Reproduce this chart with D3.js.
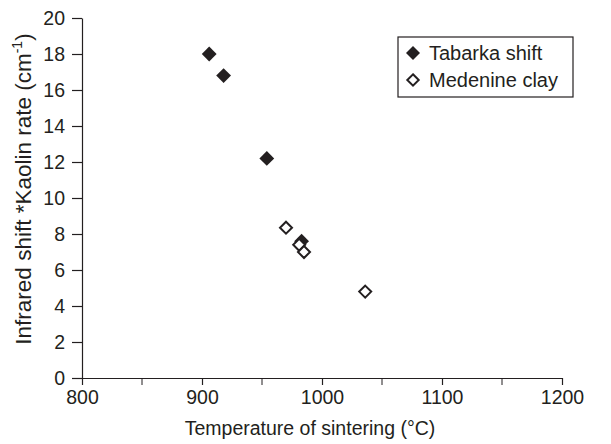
<!DOCTYPE html>
<html>
<head>
<meta charset="utf-8">
<script src="https://cdn.jsdelivr.net/npm/d3@7"></script>
<style>
  body { margin: 0; background: #fff; }
  svg text { font-family: "Liberation Sans", Arial, sans-serif; fill: #231f20; }
</style>
</head>
<body>
<svg id="chart" width="611" height="444"></svg>
<script>
// data
var tabarkaTemp = [906, 918, 954, 983];
var tabarkaShift = [18.0, 16.8, 12.2, 7.6];
var medenineTemp = [970, 981, 985, 1036];
var medenineShift = [8.35, 7.4, 7.0, 4.8];
var xTicks = [800, 900, 1000, 1100, 1200];
var xMinorTicks = [850, 950, 1050, 1150];
var yTicks = [0, 2, 4, 6, 8, 10, 12, 14, 16, 18, 20];

var ink = '#231f20';
var fs = 19.5;
var svg = d3.select('#chart');

var x = d3.scaleLinear().domain([800, 1200]).range([82, 562]);
var y = d3.scaleLinear().domain([0, 20]).range([378, 18]);

function diamond(r) {
  return 'M0,' + (-r) + 'L' + r + ',0L0,' + r + 'L' + (-r) + ',0Z';
}

// x axis
var xAxis = svg.append('g').attr('transform', 'translate(0,378)')
  .call(d3.axisBottom(x).tickValues(xTicks).tickFormat(d3.format('d'))
    .tickSize(7).tickSizeOuter(0).tickPadding(3));
xAxis.append('g').selectAll('line').data(xMinorTicks).enter().append('line')
  .attr('x1', function(d) { return x(d); }).attr('x2', function(d) { return x(d); })
  .attr('y1', 0).attr('y2', 7).attr('stroke', ink);

// y axis
var yAxis = svg.append('g').attr('transform', 'translate(82,0)')
  .call(d3.axisLeft(y).tickValues(yTicks).tickSize(10).tickSizeOuter(0).tickPadding(7));

svg.selectAll('.domain, .tick line').attr('stroke', ink).attr('stroke-width', 1.2);
svg.selectAll('.tick text').attr('font-size', fs).style('fill', ink);
xAxis.selectAll('.tick text').attr('dy', '0.8em');

// axis titles
svg.append('text').attr('x', 310).attr('y', 435).attr('text-anchor', 'middle')
  .attr('font-size', fs).text('Temperature of sintering (°C)');

var yt = svg.append('text').attr('transform', 'translate(31,189) rotate(-90)')
  .attr('text-anchor', 'middle').attr('font-size', 22.5);
yt.append('tspan').text('Infrared shift *Kaolin rate (cm');
yt.append('tspan').attr('font-size', 14).attr('dy', -9).text('-1');
yt.append('tspan').attr('dy', 9).text(')');

// markers
var tab = d3.zip(tabarkaTemp, tabarkaShift);
var med = d3.zip(medenineTemp, medenineShift);

svg.append('g').selectAll('path').data(tab).enter().append('path')
  .attr('d', diamond(7.4))
  .attr('transform', function(d) { return 'translate(' + x(d[0]) + ',' + y(d[1]) + ')'; })
  .attr('fill', ink);

svg.append('g').selectAll('path').data(med).enter().append('path')
  .attr('d', diamond(6))
  .attr('transform', function(d) { return 'translate(' + x(d[0]) + ',' + y(d[1]) + ')'; })
  .attr('fill', '#fff').attr('stroke', ink).attr('stroke-width', 2);

// legend
var lg = svg.append('g');
lg.append('rect').attr('x', 398).attr('y', 37).attr('width', 175).attr('height', 60)
  .attr('fill', '#fff').attr('stroke', ink).attr('stroke-width', 1.2);
lg.append('path').attr('d', diamond(7)).attr('transform', 'translate(413,53)').attr('fill', ink);
lg.append('path').attr('d', diamond(5.7)).attr('transform', 'translate(413,80)')
  .attr('fill', '#fff').attr('stroke', ink).attr('stroke-width', 2);
lg.append('text').attr('x', 429).attr('y', 60).attr('font-size', 20).text('Tabarka shift');
lg.append('text').attr('x', 429).attr('y', 87).attr('font-size', 20).text('Medenine clay');
</script>
</body>
</html>
